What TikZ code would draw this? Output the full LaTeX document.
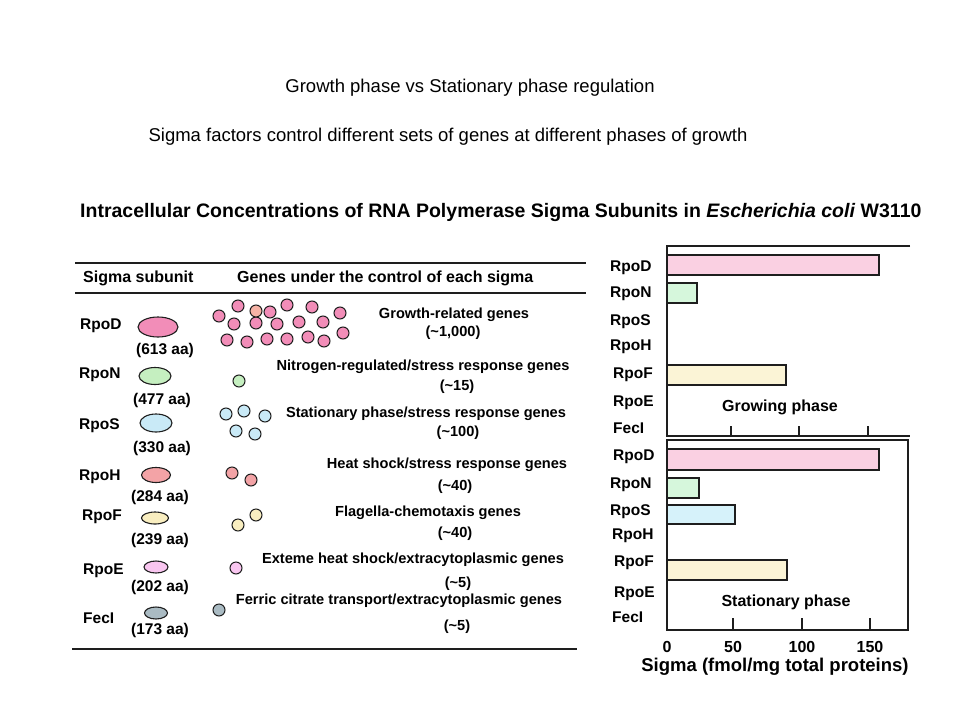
\documentclass[tikz,border=0pt]{standalone}
\usepackage{fontspec}
\setmainfont{Liberation Sans}
\usetikzlibrary{shapes.geometric}
\definecolor{cD}{HTML}{F28DB8}
\definecolor{cPeach}{HTML}{F6B3A6}
\definecolor{cN}{HTML}{C5EFC0}
\definecolor{cS}{HTML}{C9EAF7}
\definecolor{cH}{HTML}{F3A3A6}
\definecolor{cF}{HTML}{F9EEC0}
\definecolor{cE}{HTML}{F9C6F0}
\definecolor{cI}{HTML}{AABBC3}
\definecolor{bD}{HTML}{FAD0E2}
\definecolor{bN}{HTML}{D6F7DC}
\definecolor{bS}{HTML}{D6F2FA}
\definecolor{bF}{HTML}{FBF4D6}
\definecolor{ink}{HTML}{1E1E1E}
\begin{document}
\begin{tikzpicture}[x=1pt,y=-1pt,
  ttl/.style={font=\fontsize{18.5}{22}\selectfont, inner sep=0},
  lab/.style={font=\fontsize{15.5}{18}\selectfont\bfseries, inner sep=0, anchor=west},
  aa/.style={font=\fontsize{15.5}{18}\selectfont\bfseries, inner sep=0},
  hdr/.style={font=\fontsize{16}{19}\selectfont\bfseries, inner sep=0, anchor=west},
  gene/.style={font=\fontsize{14.6}{17}\selectfont\bfseries, inner sep=0},
  gc/.style={circle, draw=ink, line width=1pt, minimum size=12pt, inner sep=0},
  sig/.style={ellipse, draw=ink, line width=1.1pt, inner sep=0},
  bar/.style={draw=ink, line width=1.3pt},
  frame/.style={draw=ink, line width=1.3pt},
  ph/.style={font=\fontsize{16}{19}\selectfont\bfseries, inner sep=0},
  tick/.style={font=\fontsize{16}{19}\selectfont\bfseries, inner sep=0}
]
\useasboundingbox (0,0) rectangle (960,720);
\fill[white] (0,0) rectangle (960,720);

% titles
\node[ttl] (t1) at (470,88) {Growth phase vs Stationary phase regulation};
\node[ttl] (t2) at (448,137) {Sigma factors control different sets of genes at different phases of growth};
\node[font=\fontsize{19.5}{23}\selectfont\bfseries, inner sep=0, anchor=west] (head) at (80,212)
  {Intracellular Concentrations of RNA Polymerase Sigma Subunits in \textit{Escherichia coli} W3110};

% table rules
\draw[ink, line width=2.6pt] (75,263) -- (586,263);
\draw[ink, line width=1.6pt] (75,293) -- (586,293);
\draw[ink, line width=2.6pt] (72,649) -- (577,649);
\node[hdr] (h1) at (83,278) {Sigma subunit};
\node[hdr] (h2) at (237,278) {Genes under the control of each sigma};

% sigma subunit column
\node[lab] (lD) at (80,326) {RpoD};
\node[sig, fill=cD, minimum width=40pt, minimum height=20pt] (eD) at (158,327) {};
\node[aa] (aD) at (165,350) {(613 aa)};
\node[lab] (lN) at (79,375) {RpoN};
\node[sig, fill=cN, minimum width=32pt, minimum height=17pt] (eN) at (155,376) {};
\node[aa] (aN) at (162,400) {(477 aa)};
\node[lab] (lS) at (79,426) {RpoS};
\node[sig, fill=cS, minimum width=32pt, minimum height=18pt] (eS) at (156,423) {};
\node[aa] (aS) at (162,448) {(330 aa)};
\node[lab] (lH) at (79,477) {RpoH};
\node[sig, fill=cH, minimum width=29pt, minimum height=15pt] (eH) at (156,475) {};
\node[aa] (aH) at (160,497) {(284 aa)};
\node[lab] (lF) at (82,517) {RpoF};
\node[sig, fill=cF, minimum width=27pt, minimum height=12pt] (eF) at (155,518) {};
\node[aa] (aF) at (160,540) {(239 aa)};
\node[lab] (lE) at (83,571) {RpoE};
\node[sig, fill=cE, minimum width=24pt, minimum height=12pt] (eE) at (156,567) {};
\node[aa] (aE) at (160,587) {(202 aa)};
\node[lab] (lI) at (83,618) {FecI};
\node[sig, fill=cI, minimum width=23pt, minimum height=12pt] (eI) at (156,613) {};
\node[aa] (aI) at (160,630) {(173 aa)};

% gene circles
\foreach \x/\y [count=\i] in {238/306,270/312,287/305,312/307,340/313,
  219/316,234/324,256/323,277/324,299/322,323/322,
  227/340,247/342,267/339,287/339,308/337,324/341,343/333}
  \node[gc, fill=cD] (gD\i) at (\x,\y) {};
\node[gc, fill=cPeach] (gDp) at (256,311) {};
\node[gc, fill=cN] (gN1) at (239,381) {};
\foreach \x/\y [count=\i] in {226/414,244/411,265/416,236/431,255/434}
  \node[gc, fill=cS] (gS\i) at (\x,\y) {};
\node[gc, fill=cH] (gH1) at (232,473) {};
\node[gc, fill=cH] (gH2) at (251,480) {};
\node[gc, fill=cF] (gF1) at (238,525) {};
\node[gc, fill=cF] (gF2) at (256,515) {};
\node[gc, fill=cE] (gE1) at (236,568) {};
\node[gc, fill=cI] (gI1) at (219,610) {};

% gene texts
\node[gene] (nD) at (454,315) {Growth-related genes};
\node[gene] (cD) at (453,333) {(\textasciitilde 1,000)};
\node[gene] (nN) at (423,367) {Nitrogen-regulated/stress response genes};
\node[gene] (cN) at (457,387) {(\textasciitilde 15)};
\node[gene] (nS) at (426,414) {Stationary phase/stress response genes};
\node[gene] (cS) at (458,433) {(\textasciitilde 100)};
\node[gene] (nH) at (447,465) {Heat shock/stress response genes};
\node[gene] (cH) at (455,487) {(\textasciitilde 40)};
\node[gene] (nF) at (428,513) {Flagella-chemotaxis genes};
\node[gene] (cF) at (455,534) {(\textasciitilde 40)};
\node[gene] (nE) at (413,560) {Exteme heat shock/extracytoplasmic genes};
\node[gene] (cE) at (458,584) {(\textasciitilde 5)};
\node[gene] (nI) at (399,601) {Ferric citrate transport/extracytoplasmic genes};
\node[gene] (cI) at (457,627) {(\textasciitilde 5)};

% top chart (growing phase)
\draw[bar, fill=bD] (667,255) rectangle (879,275);
\draw[bar, fill=bN] (667,283) rectangle (697,303);
\draw[bar, fill=bF] (667,365) rectangle (786,385);
\draw[frame] (910,246) -- (667,246) -- (667,436) -- (910,436);
\foreach \x in {731,799,868} \draw[frame] (\x,426) -- (\x,436);
\node[lab] (gl1) at (610,268) {RpoD};
\node[lab] (gl2) at (610,294) {RpoN};
\node[lab] (gl3) at (610,322) {RpoS};
\node[lab] (gl4) at (610,347) {RpoH};
\node[lab] (gl5) at (613,375) {RpoF};
\node[lab] (gl6) at (613,403) {RpoE};
\node[lab] (gl7) at (613,428) {FecI};
\node[ph] (gp) at (780,407) {Growing phase};

% bottom chart (stationary phase)
\draw[bar, fill=bD] (667,449) rectangle (879,470);
\draw[bar, fill=bN] (667,478) rectangle (699,498);
\draw[bar, fill=bS] (667,505) rectangle (735,524);
\draw[bar, fill=bF] (667,560) rectangle (787,580);
\draw[frame] (667,440) rectangle (908,630);
\foreach \x in {733,802,870} \draw[frame] (\x,618) -- (\x,630);
\node[lab] (sl1) at (613,457) {RpoD};
\node[lab] (sl2) at (610,485) {RpoN};
\node[lab] (sl3) at (610,512) {RpoS};
\node[lab] (sl4) at (612,536) {RpoH};
\node[lab] (sl5) at (614,563) {RpoF};
\node[lab] (sl6) at (614,594) {RpoE};
\node[lab] (sl7) at (612,617) {FecI};
\node[ph] (sp) at (786,602) {Stationary phase};
\node[tick] (x0) at (667,647) {0};
\node[tick] (x50) at (733,647) {50};
\node[tick] (x100) at (802,647) {100};
\node[tick] (x150) at (870,647) {150};
\node[font=\fontsize{18.5}{22}\selectfont\bfseries, inner sep=0] (xt) at (775,667) {Sigma (fmol/mg total proteins)};
\end{tikzpicture}
\end{document}
